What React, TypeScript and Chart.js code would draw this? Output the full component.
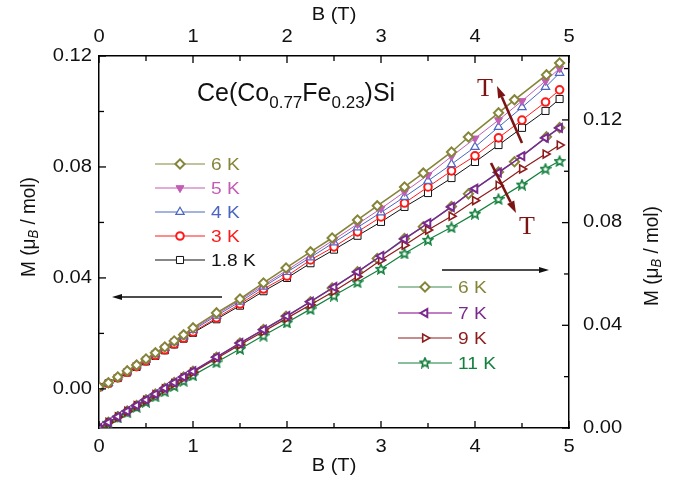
import React, { useEffect, useRef } from 'react';
import { Chart, registerables } from 'chart.js';
import { drawPoint } from 'chart.js/helpers';

Chart.register(...registerables);

// ---------- data ----------
const B_REG = [0, 0.1, 0.2, 0.3, 0.4, 0.5, 0.6, 0.7, 0.8, 0.9, 1.0, 1.25, 1.5, 1.75, 2.0, 2.25, 2.5, 2.75, 3.0, 3.25, 3.5, 3.75, 4.0, 4.25, 4.5, 4.75, 4.9];
const B_6K = [0, 0.1, 0.2, 0.3, 0.4, 0.5, 0.6, 0.7, 0.8, 0.9, 1.0, 1.25, 1.5, 1.75, 1.99, 2.25, 2.48, 2.75, 2.96, 3.25, 3.45, 3.75, 3.93, 4.25, 4.42, 4.76, 4.9];

// left axis (low temperature)
const M_6K_L = [0.0007, 0.0022, 0.0043, 0.0065, 0.0086, 0.0108, 0.0130, 0.0151, 0.0173, 0.0195, 0.0220, 0.0274, 0.0324, 0.0382, 0.0436, 0.0494, 0.0544, 0.0609, 0.0660, 0.0728, 0.0778, 0.0854, 0.0908, 0.0995, 0.1042, 0.1132, 0.1175];
const M_5K = [0.0007, 0.0022, 0.0043, 0.0064, 0.0086, 0.0107, 0.0129, 0.0150, 0.0172, 0.0193, 0.0216, 0.0269, 0.0320, 0.0374, 0.0428, 0.0483, 0.0538, 0.0594, 0.0650, 0.0710, 0.0771, 0.0838, 0.0903, 0.0969, 0.1038, 0.1110, 0.1155];
const M_4K = [0.0006, 0.0021, 0.0042, 0.0063, 0.0084, 0.0105, 0.0126, 0.0147, 0.0168, 0.0189, 0.0212, 0.0264, 0.0314, 0.0368, 0.0421, 0.0474, 0.0528, 0.0582, 0.0636, 0.0692, 0.0750, 0.0810, 0.0872, 0.0944, 0.1015, 0.1088, 0.1139];
const M_3K = [0.0006, 0.0020, 0.0040, 0.0060, 0.0080, 0.0101, 0.0121, 0.0141, 0.0162, 0.0183, 0.0205, 0.0256, 0.0306, 0.0360, 0.0407, 0.0465, 0.0512, 0.0566, 0.0620, 0.0670, 0.0728, 0.0786, 0.0840, 0.0905, 0.0969, 0.1034, 0.1078];
const M_18K = [0.0006, 0.0020, 0.0039, 0.0059, 0.0079, 0.0099, 0.0119, 0.0139, 0.0160, 0.0181, 0.0202, 0.0251, 0.0300, 0.0352, 0.0400, 0.0453, 0.0502, 0.0552, 0.0602, 0.0656, 0.0706, 0.0760, 0.0818, 0.0879, 0.0941, 0.1002, 0.1045];

// right axis (high temperature)
const M_6K_R = [0, 0.0022, 0.0044, 0.0066, 0.0088, 0.0110, 0.0132, 0.0155, 0.0177, 0.0199, 0.0221, 0.0276, 0.0331, 0.0384, 0.0435, 0.0492, 0.0545, 0.0609, 0.0660, 0.0738, 0.0784, 0.0863, 0.0912, 0.0997, 0.1037, 0.1134, 0.1170];
const M_7K = [0, 0.0022, 0.0044, 0.0066, 0.0088, 0.0110, 0.0132, 0.0155, 0.0177, 0.0199, 0.0221, 0.0276, 0.0331, 0.0383, 0.0436, 0.0492, 0.0549, 0.0608, 0.0670, 0.0736, 0.0798, 0.0861, 0.0932, 0.0995, 0.1059, 0.1130, 0.1169];
const M_9K = [0, 0.0022, 0.0043, 0.0065, 0.0087, 0.0108, 0.0130, 0.0152, 0.0173, 0.0195, 0.0217, 0.0271, 0.0324, 0.0376, 0.0428, 0.0480, 0.0533, 0.0590, 0.0654, 0.0712, 0.0771, 0.0825, 0.0886, 0.0945, 0.1009, 0.1067, 0.1102];
const M_11K = [0, 0.0020, 0.0041, 0.0061, 0.0082, 0.0102, 0.0123, 0.0143, 0.0164, 0.0184, 0.0205, 0.0256, 0.0308, 0.0360, 0.0411, 0.0463, 0.0516, 0.0568, 0.0620, 0.0680, 0.0733, 0.0782, 0.0835, 0.0892, 0.0948, 0.1010, 0.1040];

const X_TICKS = [0, 1, 2, 3, 4, 5];
const X_MINOR = [0.5, 1.5, 2.5, 3.5, 4.5];
const Y_TICKS = [0, 0.04, 0.08, 0.12];
const YL_MINOR = [0.02, 0.06, 0.1];
const YR_MINOR = [0.02, 0.06, 0.1, 0.14];

const LEFT_LABELS = ['6 K', '5 K', '4 K', '3 K', '1.8 K'];
const RIGHT_LABELS = ['6 K', '7 K', '9 K', '11 K'];

const OLIVE = '#85853a';
const PINK = '#c25cb4';
const BLUE = '#4a66c2';
const RED = '#ff1a1a';
const BLACK = '#111111';
const PURPLE = '#7a2a8e';
const DRED = '#8e1c1c';
const GREEN = '#14803e';
const ARROW = '#7c1414';

const SANS = "'Liberation Sans', Arial, Helvetica, sans-serif";
const SERIF = "'Liberation Serif', 'Times New Roman', serif";
const SX = 1.15; // horizontal stretch of the original figure's axis lettering

function makeStar(color: string) {
  const c = document.createElement('canvas');
  c.width = 12; c.height = 12;
  const g = c.getContext('2d')!;
  g.beginPath();
  for (let i = 0; i < 10; i++) {
    const r = i % 2 === 0 ? 5 : 2.3;
    const a = -Math.PI / 2 + (i * Math.PI) / 5;
    const px = 6 + r * Math.cos(a);
    const py = 6.5 + r * Math.sin(a);
    if (i === 0) g.moveTo(px, py); else g.lineTo(px, py);
  }
  g.closePath();
  g.fillStyle = '#ffffff';
  g.fill();
  g.strokeStyle = color;
  g.lineWidth = 1.6;
  g.stroke();
  return c;
}

type Part = { t: string; size: number; dy?: number; italic?: boolean };

function richWidth(ctx: CanvasRenderingContext2D, parts: Part[], family: string) {
  let w = 0;
  for (const p of parts) {
    ctx.font = `${p.italic ? 'italic ' : ''}${p.size}px ${family}`;
    w += ctx.measureText(p.t).width;
  }
  return w;
}

function drawRich(ctx: CanvasRenderingContext2D, parts: Part[], x: number, y: number, family: string) {
  let cx = x;
  for (const p of parts) {
    ctx.font = `${p.italic ? 'italic ' : ''}${p.size}px ${family}`;
    ctx.fillText(p.t, cx, y + (p.dy || 0));
    cx += ctx.measureText(p.t).width;
  }
}

// text stretched horizontally by sx; align: 'left' | 'center' | 'right'
function sText(ctx: CanvasRenderingContext2D, t: string, x: number, y: number, align: string, sx = SX) {
  const w = ctx.measureText(t).width * sx;
  const x0 = align === 'center' ? x - w / 2 : align === 'right' ? x - w : x;
  ctx.save();
  ctx.textAlign = 'left';
  ctx.translate(x0, y);
  ctx.scale(sx, 1);
  ctx.fillText(t, 0, 0);
  ctx.restore();
}

function arrow(ctx: CanvasRenderingContext2D, x1: number, y1: number, x2: number, y2: number, color: string, lw: number, hl: number, hw: number) {
  const ang = Math.atan2(y2 - y1, x2 - x1);
  const bx = x2 - hl * Math.cos(ang);
  const by = y2 - hl * Math.sin(ang);
  ctx.save();
  ctx.strokeStyle = color;
  ctx.fillStyle = color;
  ctx.lineWidth = lw;
  ctx.beginPath();
  ctx.moveTo(x1, y1);
  ctx.lineTo(bx, by);
  ctx.stroke();
  ctx.beginPath();
  ctx.moveTo(x2, y2);
  ctx.lineTo(bx + (hw / 2) * Math.sin(ang), by - (hw / 2) * Math.cos(ang));
  ctx.lineTo(bx - (hw / 2) * Math.sin(ang), by + (hw / 2) * Math.cos(ang));
  ctx.closePath();
  ctx.fill();
  ctx.restore();
}

export default function App() {
  const ref = useRef<HTMLCanvasElement>(null);

  useEffect(() => {
    const star = makeStar(GREEN);
    const pts = (xs: number[], ys: number[]) => xs.map((b, i) => ({ x: b, y: ys[i] }));

    const datasets: any[] = [
      { label: '6 K', data: pts(B_6K, M_6K_L), yAxisID: 'y', borderColor: OLIVE, borderWidth: 1.6, pointStyle: 'rectRot', pointRadius: 4.6, pointBorderWidth: 2, pointBackgroundColor: '#fff', pointBorderColor: OLIVE },
      { label: '5 K', data: pts(B_REG, M_5K), yAxisID: 'y', borderColor: PINK, borderWidth: 1, pointStyle: 'triangle', pointRotation: 180, pointRadius: 4.6, pointBorderWidth: 1, pointBackgroundColor: PINK, pointBorderColor: PINK },
      { label: '4 K', data: pts(B_REG, M_4K), yAxisID: 'y', borderColor: BLUE, borderWidth: 1, pointStyle: 'triangle', pointRadius: 4.8, pointBorderWidth: 1.2, pointBackgroundColor: '#fff', pointBorderColor: BLUE },
      { label: '3 K', data: pts(B_REG, M_3K), yAxisID: 'y', borderColor: RED, borderWidth: 1, pointStyle: 'circle', pointRadius: 3.8, pointBorderWidth: 2, pointBackgroundColor: '#fff', pointBorderColor: RED },
      { label: '1.8 K', data: pts(B_REG, M_18K), yAxisID: 'y', borderColor: BLACK, borderWidth: 1, pointStyle: 'rect', pointRadius: 5, pointBorderWidth: 1, pointBackgroundColor: '#fff', pointBorderColor: BLACK },
      { label: '7 K', data: pts(B_REG, M_7K), yAxisID: 'y2', borderColor: PURPLE, borderWidth: 1.5, pointStyle: 'triangle', pointRotation: 270, pointRadius: 4.6, pointBorderWidth: 2, pointBackgroundColor: '#fff', pointBorderColor: PURPLE },
      { label: '9 K', data: pts(B_REG, M_9K), yAxisID: 'y2', borderColor: DRED, borderWidth: 1.2, pointStyle: 'triangle', pointRotation: 90, pointRadius: 4.6, pointBorderWidth: 1.6, pointBackgroundColor: '#fff', pointBorderColor: DRED },
      { label: '11 K', data: pts(B_REG, M_11K), yAxisID: 'y2', borderColor: GREEN, borderWidth: 1.2, pointStyle: star, pointRadius: 5 },
      { label: '6 K R', data: pts(B_6K, M_6K_R), yAxisID: 'y2', borderColor: '#3a8a50', borderWidth: 1.2, pointStyle: 'rectRot', pointRadius: 4.6, pointBorderWidth: 2, pointBackgroundColor: '#fff', pointBorderColor: OLIVE },
    ];
    datasets.forEach((d) => { d.showLine = true; d.fill = false; d.tension = 0; });

    const fixTicks = (vals: number[]) => (s: any) => { s.ticks = vals.map((v) => ({ value: v })); };

    const decor = {
      id: 'decor',
      afterDraw(chart: any) {
        const ctx: CanvasRenderingContext2D = chart.ctx;
        const { x, x2, y, y2 } = chart.scales;
        const a = chart.chartArea;
        ctx.save();
        // inward ticks
        ctx.strokeStyle = '#000';
        ctx.lineWidth = 1.3;
        const seg = (x1: number, y1: number, xe: number, ye: number) => { ctx.beginPath(); ctx.moveTo(x1, y1); ctx.lineTo(xe, ye); ctx.stroke(); };
        for (const v of X_TICKS) { const px = x.getPixelForValue(v); seg(px, a.bottom, px, a.bottom - 7); seg(px, a.top, px, a.top + 7); }
        for (const v of X_MINOR) { const px = x.getPixelForValue(v); seg(px, a.bottom, px, a.bottom - 5); seg(px, a.top, px, a.top + 5); }
        for (const v of Y_TICKS) { const py = y.getPixelForValue(v); seg(a.left, py, a.left + 7, py); }
        for (const v of YL_MINOR) { const py = y.getPixelForValue(v); seg(a.left, py, a.left + 5, py); }
        for (const v of Y_TICKS) { const py = y2.getPixelForValue(v); seg(a.right, py, a.right - 7, py); }
        for (const v of YR_MINOR) { const py = y2.getPixelForValue(v); seg(a.right, py, a.right - 5, py); }

        // tick labels from the scales
        ctx.fillStyle = '#111';
        ctx.font = `17.5px ${SANS}`;
        ctx.textBaseline = 'middle';
        for (const t of x.ticks) sText(ctx, String(t.value), x.getPixelForValue(t.value), a.bottom + 19, 'center');
        for (const t of x2.ticks) sText(ctx, String(t.value), x2.getPixelForValue(t.value), a.top - 19, 'center');
        for (const t of y.ticks) sText(ctx, t.value.toFixed(2), a.left - 7, y.getPixelForValue(t.value), 'right');
        for (const t of y2.ticks) sText(ctx, t.value.toFixed(2), a.right + 14, y2.getPixelForValue(t.value), 'left');

        // axis titles
        const cxm = (a.left + a.right) / 2;
        ctx.font = `17.5px ${SANS}`;
        sText(ctx, 'B (T)', cxm, 466, 'center');
        sText(ctx, 'B (T)', cxm, 15, 'center');
        ctx.textAlign = 'left';
        const mParts: Part[] = [
          { t: 'M (\u03bc', size: 19 },
          { t: 'B', size: 13, dy: 5, italic: true },
          { t: ' / mol)', size: 19 },
        ];
        const mw = richWidth(ctx, mParts, SANS);
        for (const [cx, cy] of [[29, 227], [652, 256]]) {
          ctx.save();
          ctx.translate(cx, cy);
          ctx.scale(1.1, 1);
          ctx.rotate(-Math.PI / 2);
          drawRich(ctx, mParts, -mw / 2, 0, SANS);
          ctx.restore();
        }

        // compound title
        ctx.textBaseline = 'alphabetic';
        drawRich(ctx, [
          { t: 'Ce(Co', size: 25 },
          { t: '0.77', size: 17, dy: 7 },
          { t: 'Fe', size: 25 },
          { t: '0.23', size: 17, dy: 7 },
          { t: ')Si', size: 25 },
        ], 197, 101, SANS);

        // legends
        const legendRow = (ds: any, label: string, lx1: number, lx2: number, ly: number, lineColor: string, lineW: number, textColor: string) => {
          ctx.strokeStyle = lineColor;
          ctx.lineWidth = lineW;
          seg(lx1, ly, lx2, ly);
          const mx = (lx1 + lx2) / 2;
          if (typeof ds.pointStyle === 'string') {
            ctx.fillStyle = ds.pointBackgroundColor;
            ctx.strokeStyle = ds.pointBorderColor;
            ctx.lineWidth = ds.pointBorderWidth;
            drawPoint(ctx, { pointStyle: ds.pointStyle, rotation: ds.pointRotation || 0, radius: ds.pointRadius, borderWidth: ds.pointBorderWidth } as any, mx, ly);
          } else {
            ctx.drawImage(ds.pointStyle, mx - 6, ly - 6.5);
          }
          ctx.fillStyle = textColor;
          ctx.font = `16.5px ${SANS}`;
          ctx.textBaseline = 'middle';
          sText(ctx, label, lx2 + 6, ly + 1, 'left', 1.16);
        };
        const leftRows = [0, 1, 2, 3, 4];
        const leftText = [OLIVE, PINK, BLUE, RED, BLACK];
        const leftY = [164, 188, 212, 236, 260];
        leftRows.forEach((di, i) => {
          legendRow(datasets[di], LEFT_LABELS[i], 155, 205, leftY[i], datasets[di].borderColor, 1.2, leftText[i]);
        });
        const rightDs = [8, 5, 6, 7];
        const rightText = [OLIVE, PURPLE, DRED, GREEN];
        const rightLine = ['#3a8a50', '#c07ec4', DRED, GREEN];
        const rightLW = [1.2, 2.2, 1.2, 1.2];
        const rightY = [287, 313, 338, 363];
        rightDs.forEach((di, i) => {
          legendRow(datasets[di], RIGHT_LABELS[i], 398, 452, rightY[i], rightLine[i], rightLW[i], rightText[i]);
        });

        // arrows
        arrow(ctx, 222, 297, 112, 297, '#111', 1.5, 10, 6);
        arrow(ctx, 442, 270, 549, 270, '#111', 1.5, 10, 6);
        arrow(ctx, 522, 143, 497, 86, ARROW, 2.6, 12, 8);
        arrow(ctx, 491, 163, 516, 213, ARROW, 2.6, 12, 8);
        ctx.fillStyle = ARROW;
        ctx.font = `26px ${SERIF}`;
        ctx.textAlign = 'center';
        ctx.textBaseline = 'middle';
        ctx.fillText('T', 485, 89);
        ctx.fillText('T', 527, 227);
        ctx.restore();
      },
    };

    const hiddenTicks = { display: false };
    const chart = new Chart(ref.current!, {
      type: 'scatter',
      data: { datasets },
      options: {
        responsive: false,
        animation: false,
        devicePixelRatio: 1,
        layout: { padding: 0 },
        plugins: { legend: { display: false }, tooltip: { enabled: false } },
        scales: {
          x: {
            type: 'linear', position: 'bottom', min: 0, max: 5,
            afterBuildTicks: fixTicks(X_TICKS),
            afterFit: (s: any) => { s.height = 57; },
            grid: { display: false, drawTicks: false },
            border: { display: true, color: '#000', width: 1.5 },
            ticks: hiddenTicks,
          },
          x2: {
            type: 'linear', position: 'top', min: 0, max: 5,
            afterBuildTicks: fixTicks(X_TICKS),
            afterFit: (s: any) => { s.height = 56; },
            grid: { display: false, drawTicks: false },
            border: { display: true, color: '#000', width: 1.5 },
            ticks: hiddenTicks,
          },
          y: {
            type: 'linear', position: 'left', min: -0.0141, max: 0.12,
            afterBuildTicks: fixTicks(Y_TICKS),
            afterFit: (s: any) => { s.width = 99; },
            grid: { display: false, drawTicks: false },
            border: { display: true, color: '#000', width: 1.5 },
            ticks: hiddenTicks,
          },
          y2: {
            type: 'linear', position: 'right', min: 0, max: 0.1449,
            afterBuildTicks: fixTicks(Y_TICKS),
            afterFit: (s: any) => { s.width = 105; },
            grid: { display: false, drawTicks: false },
            border: { display: true, color: '#000', width: 1.5 },
            ticks: hiddenTicks,
          },
        },
      },
      plugins: [decor],
    } as any);
    return () => chart.destroy();
  }, []);

  return (
    <div style={{ position: 'absolute', left: 0, top: 0, width: 674, height: 485, background: '#fff' }}>
      <canvas ref={ref} width={674} height={485} style={{ display: 'block', width: 674, height: 485 }} />
    </div>
  );
}
